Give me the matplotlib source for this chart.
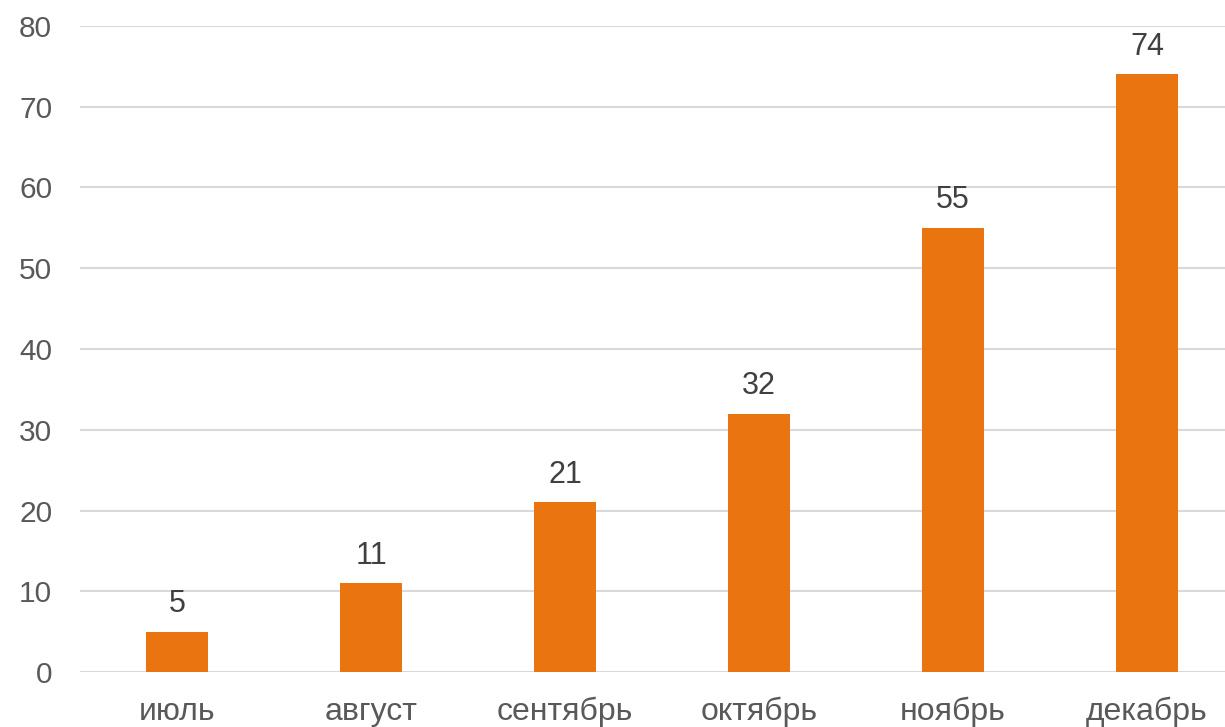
import matplotlib
matplotlib.use("Agg")
import matplotlib.pyplot as plt

categories = ["июль", "август", "сентябрь", "октябрь", "ноябрь", "декабрь"]
values = [5, 11, 21, 32, 55, 74]
yticks = [0, 10, 20, 30, 40, 50, 60, 70, 80]

plt.rcParams['font.family'] = ['Liberation Sans', 'DejaVu Sans']

fig = plt.figure(figsize=(12.25, 7.27), dpi=100)
ax = fig.add_axes([80/1225, 55/727, 1164/1225, 646/727])

x = list(range(len(categories)))
bars = ax.bar(x, values, width=0.315, color='#E97410', zorder=3)
ax.bar_label(bars, labels=[str(v) for v in values], padding=9,
             fontsize=22, color='#404040')

ax.set_xlim(-0.5, len(categories) - 0.5)
ax.set_ylim(0, 80)
ax.set_yticks(yticks)
ax.set_xticks(x)
ax.set_xticklabels(categories)
ax.tick_params(axis='y', length=0, pad=20, labelsize=21.5, labelcolor='#595959')
ax.tick_params(axis='x', length=0, pad=18, labelsize=23, labelcolor='#595959')
ax.grid(axis='y', color='#D9D9D9', linewidth=1.5, zorder=0)
for s in ax.spines.values():
    s.set_visible(False)

fig.savefig("out.png", dpi=100)
